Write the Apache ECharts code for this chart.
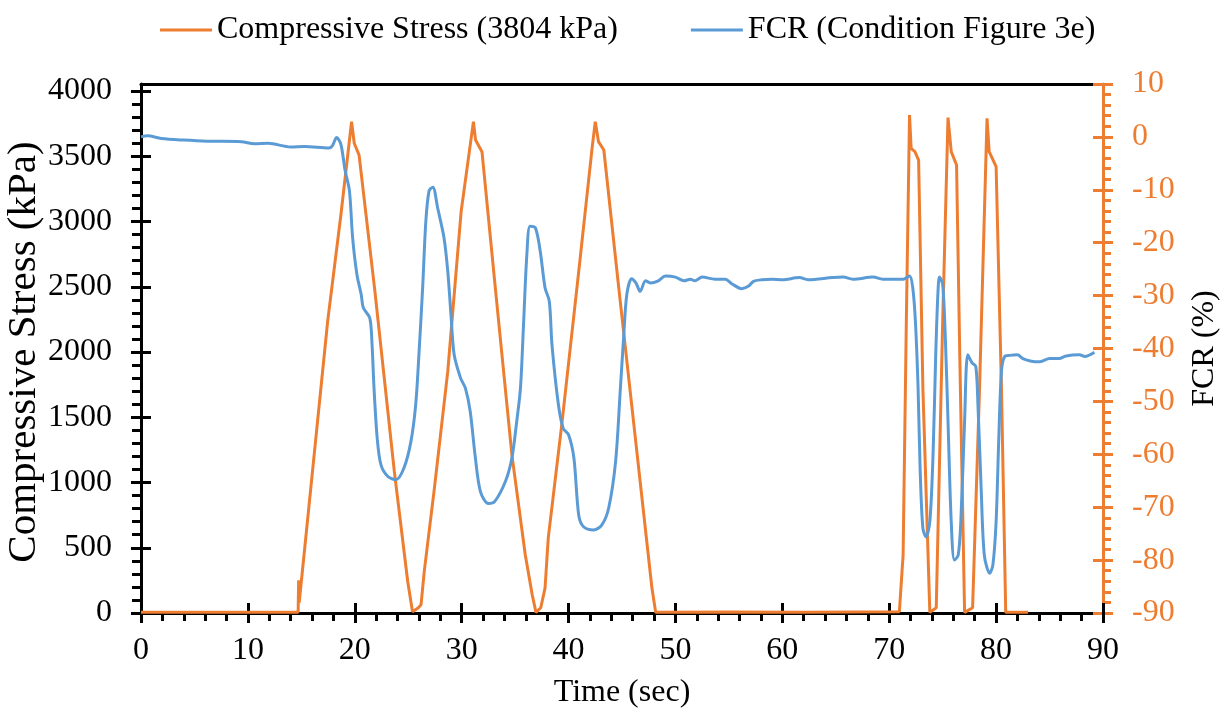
<!DOCTYPE html>
<html><head><meta charset="utf-8">
<script src="https://cdn.jsdelivr.net/npm/echarts@6/dist/echarts.min.js"></script>
<style>html,body{margin:0;padding:0;background:#fff}#c{width:1228px;height:711px}</style>
</head><body><div id="c"></div><script>
// ---- data ----
const seriesNames = ['Compressive Stress (3804 kPa)', 'FCR (Condition Figure 3e)'];

const stressTime = [0, 14.7, 14.75, 14.8, 16.2, 17.46, 18.7, 19.7, 19.95, 20.4, 21.85, 23.7, 24.95, 25.4, 25.95, 26.2, 26.5, 27.45, 28.7, 29.95,
  31.1, 31.3, 31.9, 33.15, 34.7, 35.95, 36.6, 36.95, 37.4, 37.8, 38.1, 39.4, 40.95, 42.2, 42.5, 42.8, 43.3, 44.7, 46.25, 47.8, 48.15, 55, 62, 70.95,
  71.3, 71.6, 71.9, 72.05, 72.4, 72.75, 73.15, 73.8, 74.4, 75.0, 75.5, 75.8, 76.3, 76.6, 77.05, 77.8, 78.45, 79.15, 79.35, 80.0, 80.5, 80.9, 83.0];
const stressKPa = [5, 5, 250, 80, 1212, 2233, 3050, 3765, 3600, 3510, 2489, 1085, 243, 10, 40, 64, 319, 957, 1851, 3076,
  3765, 3624, 3535, 2489, 1212, 446, 140, 5, 40, 191, 574, 1468, 2616, 3560, 3765, 3612, 3548, 2489, 1340, 191, 5, 8, 6, 10,
  446, 2233, 3815, 3560, 3535, 3471, 1723, 5, 40, 2233, 3796, 3535, 3433, 1978, 5, 40, 1723, 3790, 3535, 3420, 1723, 5, 5];

const fcrTime = [0, 0.6, 1.9, 4.0, 6.2, 9.4, 10.6, 11.9, 14.0, 15.3, 17.6, 17.9, 18.3, 18.7, 19.1, 19.5, 19.8, 20.2, 20.6, 20.8,
  21.4, 21.6, 21.8, 22.1, 22.45, 23.1, 23.85, 24.6, 25.25, 25.7, 26.0, 26.35, 26.65, 26.95, 27.3, 27.75, 28.35, 28.7, 29.0, 29.3,
  29.9, 30.35, 30.8, 31.25, 31.75, 32.5, 33.1, 34.1, 34.7, 35.15, 35.5, 35.8, 36.1, 36.4, 36.9, 37.35, 37.8, 38.2, 38.45, 39.05,
  39.5, 40.0, 40.5, 40.95, 41.4, 42.35, 43.1, 43.75, 44.4, 44.85, 45.15, 45.45, 45.9, 46.3, 46.7, 47.2, 47.65, 48.4, 49.05, 50.0,
  50.8, 51.4, 51.8, 52.5, 53.7, 54.65, 55.3, 56.2, 56.85, 57.3, 58.1, 59.0, 60.0, 61.6, 62.4, 64.7, 65.7, 66.6, 68.5, 69.4,
  71.3, 71.9, 72.2, 72.45, 72.7, 72.9, 73.15, 73.45, 73.8, 74.1, 74.35, 74.55, 74.7, 75.0, 75.25, 75.5, 75.8, 76.1, 76.45, 76.7,
  77.05, 77.35, 77.75, 78.1, 78.3, 78.6, 78.9, 79.4, 79.7, 80.0, 80.25, 80.5, 80.8, 81.25, 82.0, 82.5, 83.3, 84.1, 85.0, 85.9,
  86.55, 87.8, 88.3, 89.2];
const fcrPct = [0.0, 0.2, -0.3, -0.6, -0.8, -0.9, -1.3, -1.2, -1.9, -1.8, -2.1, -1.7, -0.1, -1.4, -6.4, -10.2, -19.1, -26.0, -29.8, -32.3,
  -34.2, -38.6, -47.5, -57.0, -62.0, -64.2, -64.8, -62.6, -57.6, -50.6, -41.2, -28.5, -15.9, -10.2, -9.5, -13.4, -19.1, -25.4, -33.6, -41.2,
  -45.6, -47.5, -51.9, -60.1, -67.0, -69.3, -68.9, -65.1, -60.7, -53.8, -47.5, -34.9, -22.2, -16.9, -17.2, -21.6, -28.5, -31.1, -39.3, -50.6,
  -55.1, -56.3, -60.7, -71.5, -73.7, -74.3, -73.4, -70.2, -61.4, -47.5, -38.0, -29.8, -26.8, -27.6, -29.2, -27.2, -27.6, -27.2, -26.3, -26.5,
  -27.2, -26.9, -27.2, -26.5, -26.9, -26.9, -27.8, -28.7, -28.2, -27.3, -27.0, -26.9, -27.0, -26.6, -27.0, -26.6, -26.5, -26.9, -26.5, -26.9,
  -26.9, -26.3, -28.5, -34.9, -47.5, -63.3, -74.0, -75.6, -72.7, -60.1, -41.2, -29.8, -26.5, -27.9, -38.0, -53.8, -72.7, -80.0, -79.1, -72.7,
  -53.8, -41.2, -42.7, -43.4, -50.6, -66.4, -79.1, -82.5, -80.9, -72.7, -57.0, -44.3, -41.5, -41.3, -41.2, -41.9, -42.4, -42.5, -41.9, -41.9,
  -41.4, -41.2, -41.5, -40.7];

// ---- axes ranges ----
const timeMin = 0, timeMax = 90, timeStep = 10;
const stressMin = 0, stressMax = 4000, stressStep = 500;
const fcrMin = -90, fcrMax = 10, fcrStep = 10;

const ORANGE = '#ED7D31', BLUE = '#5B9BD5', BLACK = '#000000';
const FONT = "'Liberation Serif', 'Times New Roman', serif";

const stressData = stressTime.map((t, i) => [t, stressKPa[i]]);
const fcrData = fcrTime.map((t, i) => [t, fcrPct[i]]);

const chart = echarts.init(document.getElementById('c'), null, {renderer: 'canvas'});
const noSplit = {show: false};
const plain = v => String(v);
chart.setOption({
  animation: false,
  backgroundColor: '#ffffff',
  textStyle: {fontFamily: FONT},
  legend: {
    left: 160, top: 14, padding: 0, icon: 'rect', itemWidth: 52, itemHeight: 3, itemGap: 73,
    textStyle: {fontFamily: FONT, fontSize: 32, color: BLACK},
    data: seriesNames
  },
  grid: [
    {left: 141, right: 125, top: 91, bottom: 98, containLabel: false, outerBoundsMode: 'none'},
    {left: 141, right: 125, top: 84, bottom: 98, containLabel: false, outerBoundsMode: 'none'}
  ],
  xAxis: [
    {gridIndex: 0, type: 'value', position: 'bottom', min: timeMin, max: timeMax, interval: timeStep,
      axisLine: {onZero: false, lineStyle: {color: BLACK, width: 3}},
      axisTick: {show: true, inside: false, length: 10, lineStyle: {color: BLACK, width: 3}},
      minorTick: {show: true, splitNumber: 5, length: 8, lineStyle: {color: BLACK, width: 3}},
      splitLine: noSplit, minorSplitLine: noSplit,
      axisLabel: {fontFamily: FONT, fontSize: 32, color: BLACK, margin: 22, formatter: plain},
      name: 'Time (sec)', nameLocation: 'middle', nameGap: 64, nameMoveOverlap: false,
      nameTextStyle: {fontFamily: FONT, fontSize: 32, color: BLACK}},
    {gridIndex: 0, type: 'value', position: 'bottom', offset: 0, min: timeMin, max: timeMax, interval: timeStep,
      axisLine: {show: false, onZero: false},
      axisTick: {show: true, inside: true, length: 10, lineStyle: {color: BLACK, width: 3}},
      axisLabel: {show: false}, splitLine: noSplit},
    {gridIndex: 1, type: 'value', position: 'top', min: timeMin, max: timeMax, interval: timeStep,
      axisLine: {onZero: false, lineStyle: {color: BLACK, width: 3}},
      axisTick: {show: false}, axisLabel: {show: false}, splitLine: noSplit}
  ],
  yAxis: [
    {gridIndex: 0, type: 'value', position: 'left', min: stressMin, max: stressMax, interval: stressStep,
      axisLine: {show: true, onZero: false, lineStyle: {color: BLACK, width: 3}},
      axisTick: {show: true, inside: false, length: 10, lineStyle: {color: BLACK, width: 3}},
      minorTick: {show: true, splitNumber: 5, length: 9, lineStyle: {color: BLACK, width: 3}},
      splitLine: noSplit, minorSplitLine: noSplit,
      axisLabel: {fontFamily: FONT, fontSize: 32, color: BLACK, margin: 29, formatter: plain},
      name: 'Compressive Stress (kPa)', nameLocation: 'middle', nameGap: 96, nameMoveOverlap: false,
      nameTextStyle: {fontFamily: FONT, fontSize: 41, color: BLACK}},
    {gridIndex: 0, type: 'value', position: 'left', offset: 0, min: stressMin, max: stressMax, interval: stressStep,
      axisLine: {show: false, onZero: false},
      axisTick: {show: true, inside: true, length: 10, lineStyle: {color: BLACK, width: 3}},
      axisLabel: {show: false}, splitLine: noSplit},
    {gridIndex: 1, type: 'value', position: 'right', min: fcrMin, max: fcrMax, interval: fcrStep,
      axisLine: {show: true, onZero: false, lineStyle: {color: ORANGE, width: 3}},
      axisTick: {show: true, inside: false, length: 10, lineStyle: {color: ORANGE, width: 3}},
      minorTick: {show: true, splitNumber: 5, length: 8, lineStyle: {color: ORANGE, width: 3}},
      splitLine: noSplit, minorSplitLine: noSplit,
      axisLabel: {fontFamily: FONT, fontSize: 32, color: ORANGE, margin: 29, formatter: plain},
      name: 'FCR (%)', nameLocation: 'middle', nameGap: 86, nameMoveOverlap: false,
      nameTextStyle: {fontFamily: FONT, fontSize: 32, color: BLACK}},
    {gridIndex: 1, type: 'value', position: 'right', offset: 0, min: fcrMin, max: fcrMax, interval: fcrStep,
      axisLine: {show: false, onZero: false},
      axisTick: {show: true, inside: true, length: 10, lineStyle: {color: ORANGE, width: 3}},
      axisLabel: {show: false}, splitLine: noSplit},
    {gridIndex: 1, type: 'value', position: 'left', offset: 0, min: fcrMin, max: fcrMax,
      axisLine: {show: true, onZero: false, lineStyle: {color: BLACK, width: 3}},
      axisTick: {show: false}, axisLabel: {show: false}, splitLine: noSplit}
  ],
  series: [
    {name: seriesNames[0], type: 'line', xAxisIndex: 0, yAxisIndex: 0, data: stressData,
      showSymbol: false, symbol: 'none', color: ORANGE, lineStyle: {color: ORANGE, width: 3}, z: 3},
    {name: seriesNames[1], type: 'line', xAxisIndex: 2, yAxisIndex: 2, data: fcrData,
      showSymbol: false, symbol: 'none', smooth: 0.3, color: BLUE, lineStyle: {color: BLUE, width: 3}, z: 4}
  ]
});
</script></body></html>
